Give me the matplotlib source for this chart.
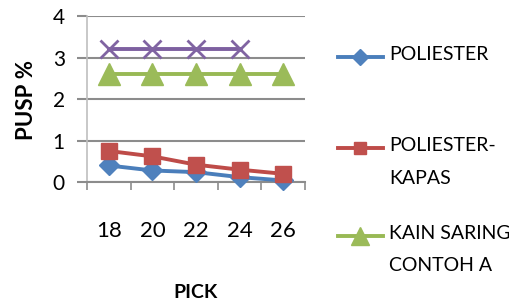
import numpy as np
import matplotlib
matplotlib.use('Agg')
import matplotlib.pyplot as plt
from matplotlib.lines import Line2D

plt.rcParams['font.family'] = ['Lato', 'DejaVu Sans']

picks = ['18', '20', '22', '24', '26']
poliester = [0.40, 0.28, 0.24, 0.12, 0.04]
poliester_kapas = [0.75, 0.62, 0.42, 0.30, 0.20]
saring_a = [2.6, 2.6, 2.6, 2.6, 2.6]
saring_b = [3.2, 3.2, 3.2, 3.2]

series = [
    ('POLIESTER', poliester, '#4A7EBB', '#4F81BD', 'D', 10),
    ('POLIESTER-\nKAPAS', poliester_kapas, '#BE4B48', '#C0504D', 's', 11),
    ('KAIN SARING\nCONTOH A', saring_a, '#98B954', '#9BBB59', '^', 16),
    ('KAIN SARING\nCONTOH B', saring_b, '#7D60A0', '#8064A2', 'x', 13),
]

grid_col = '#8C8C8C'

fig = plt.figure(figsize=(5.09, 3.03), dpi=100)
ax = fig.add_axes([0.171, 0.399, 0.428, 0.548])

x = np.arange(len(picks))
for label, vals, lc, mc, mk, ms in series:
    ax.plot(x[:len(vals)], vals, color=lc, lw=2.8, marker=mk, ms=ms,
            mfc=mc, mec=mc, mew=2 if mk == 'x' else 1, clip_on=False, zorder=3)

ax.set_xlim(-0.5, len(picks) - 0.5)
ax.set_ylim(0, 4)
ax.set_yticks([0, 1, 2, 3, 4])
ax.set_xticks(x)
ax.set_xticklabels(picks)
ax.set_xticks(np.arange(-0.5, len(picks)), minor=True)
ax.tick_params(axis='x', which='major', length=0, pad=28, labelsize=16)
ax.tick_params(axis='x', which='minor', length=6, width=1.2, color=grid_col)
ax.tick_params(axis='y', length=7, width=1.5, color=grid_col, pad=9, labelsize=15)
ax.yaxis.grid(True, color=grid_col, lw=1.5)
ax.set_axisbelow(True)
for s in ['top', 'right']:
    ax.spines[s].set_visible(False)
ax.spines['left'].set_color('#BFBFBF')
ax.spines['left'].set_linewidth(1.2)
ax.spines['bottom'].set_color(grid_col)
ax.spines['bottom'].set_linewidth(1.5)

fig.text(0.052, 0.67, 'PUSP %', rotation=90, ha='center', va='center',
         fontsize=16, fontweight='bold')
fig.text(0.385, 0.035, 'PICK', ha='center', va='center',
         fontsize=14, fontweight='bold')

# legend drawn by hand; only the first three entries fit inside the picture
leg_y = [0.812, 0.51, 0.222]
for (label, vals, lc, mc, mk, ms), yy in zip(series[:3], leg_y):
    fig.add_artist(Line2D([0.664, 0.752], [yy, yy], color=lc, lw=2.8,
                          transform=fig.transFigure))
    fig.add_artist(Line2D([0.708], [yy], marker=mk, ms=ms * 0.8, mfc=mc, mec=mc,
                          mew=2 if mk == 'x' else 1, transform=fig.transFigure))
    fig.text(0.764, yy + 0.037, label, ha='left', va='top', fontsize=14,
             linespacing=2.1)

fig.savefig('out.png', dpi=100)
